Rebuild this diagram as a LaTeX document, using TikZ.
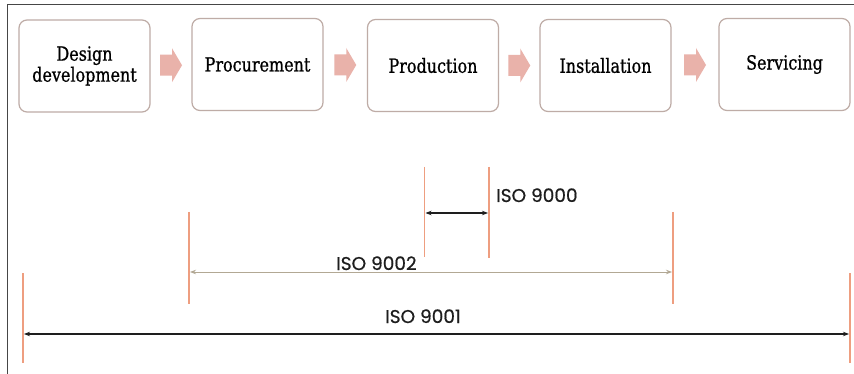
\documentclass[tikz,border=0pt]{standalone}
\usepackage{fontspec}
\usetikzlibrary{arrows.meta,calc}
\newfontfamily\boxfont[FakeStretch=0.82,FakeBold=0.8]{DejaVu Serif}
\newfontfamily\isofont[FakeBold=0.6]{Poppins}
\definecolor{framec}{RGB}{70,70,70}
\definecolor{boxc}{RGB}{190,172,166}
\definecolor{pinkc}{RGB}{233,178,170}
\definecolor{tickc}{RGB}{238,158,128}
\definecolor{tanc}{RGB}{178,168,148}
\definecolor{darkc}{RGB}{30,30,30}
\newcommand\chev[1]{\fill[pinkc] ([shift={(-11,-10.5)}]#1) -- ([shift={(1,-10.5)}]#1) -- ([shift={(1,-17)}]#1) -- ([shift={(11,0)}]#1) -- ([shift={(1,17)}]#1) -- ([shift={(1,10.5)}]#1) -- ([shift={(-11,10.5)}]#1) -- cycle;}
\begin{document}
\begin{tikzpicture}[x=1pt,y=-1pt,
  stage/.style={draw=boxc,line width=1.2pt,rounded corners=8pt,fill=white,
    minimum width=131pt,minimum height=92pt,inner sep=0pt,align=center,
    font=\boxfont\fontsize{19.5}{21}\selectfont,text=black},
  tickline/.style={draw=tickc,line width=1.5pt},
  span/.style={line width=1.2pt,{Stealth[length=6pt,width=4.5pt]}-{Stealth[length=6pt,width=4.5pt]}},
  isolabel/.style={anchor=base west,inner sep=0pt,font=\isofont\fontsize{18.5}{20}\selectfont,text=darkc}]
\useasboundingbox (0,0) rectangle (854,374);
\fill[white] (0,0) rectangle (854,374);
% frame
\coordinate (fc) at (7.5,4.5);
\coordinate (ftr) at (854,4.5);
\coordinate (fbl) at (7.5,374);
\draw[framec,line width=1.6pt] (fbl) -- (fc) -- (ftr);
% tick coordinates and tick lines
\coordinate (t0a) at (424.5,167); \coordinate (t0b) at (424.5,257);
\coordinate (t1a) at (489,167);   \coordinate (t1b) at (489,258);
\coordinate (t2a) at (189,212);   \coordinate (t2b) at (189,304);
\coordinate (t3a) at (673,212);   \coordinate (t3b) at (673,304);
\coordinate (t4a) at (23,273);    \coordinate (t4b) at (23,363);
\coordinate (t5a) at (850,273);   \coordinate (t5b) at (850,363);
\draw[tickline] (t0a) -- (t0b);
\draw[tickline] (t1a) -- (t1b);
\draw[tickline] (t2a) -- (t2b);
\draw[tickline] (t3a) -- (t3b);
\draw[tickline] (t4a) -- (t4b);
\draw[tickline] (t5a) -- (t5b);
% spans
\coordinate (a0L) at (425.5,213); \coordinate (a0R) at (488,213);
\draw[span,darkc,line width=1.6pt] (a0L) -- (a0R);
\coordinate (a2L) at (190,272); \coordinate (a2R) at (672,272);
\draw[span,tanc,line width=1pt] (a2L) -- (a2R);
\coordinate (a4L) at (24,334); \coordinate (a4R) at (849,334);
\draw[span,darkc] (a4L) -- (a4R);
% stages
\node[stage] (b1) at (84.5,66) {Design\\development};
\node[stage] (b2) at (257.5,64.5) {Procurement};
\node[stage] (b3) at (433,65.5) {Production};
\node[stage] (b4) at (605.5,65.5) {Installation};
\node[stage] (b5) at (784.5,64.5) {Servicing};
% chevrons
\coordinate (m1) at ($(b1.east)!0.5!(b2.west)$);
\coordinate (m2) at ($(b2.east)!0.5!(b3.west)$);
\coordinate (m3) at ($(b3.east)!0.5!(b4.west)$);
\coordinate (m4) at ($(b4.east)!0.5!(b5.west)$);
\chev{m1}\chev{m2}\chev{m3}\chev{m4}
% labels
\node[isolabel] (l9000) at (496,202) {ISO 9000};
\node[isolabel] (l9002) at (336,270) {ISO 9002};
\node[isolabel] (l9001) at (385,323) {ISO 9001};
\end{tikzpicture}
\end{document}
